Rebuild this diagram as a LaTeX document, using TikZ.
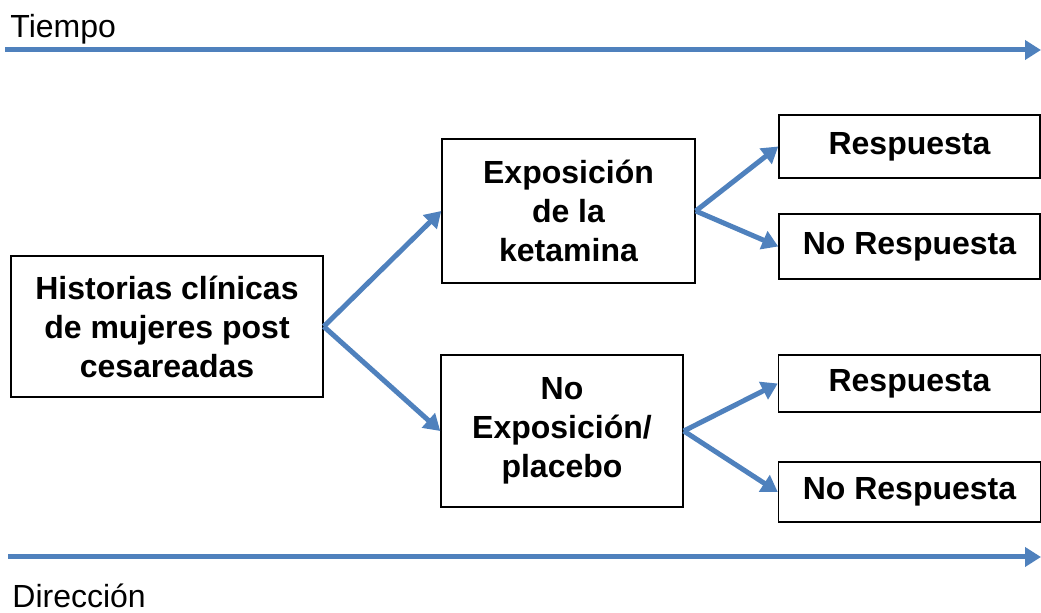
\documentclass[tikz,border=0pt]{standalone}
\usepackage{fontspec}
\setmainfont{Liberation Sans}
\usetikzlibrary{arrows.meta}
\definecolor{flechaazul}{RGB}{79,129,189}
\tikzset{
  caja/.style={draw,line width=0.75pt,inner sep=0,align=center,font=\cajafontsize\bfseries},
  flecha/.style={draw=flechaazul,line width=2.5pt,-{Triangle[length=8pt,width=9.5pt]}},
  rotulo/.style={anchor=base west,inner sep=0,font=\cajafontsize},
}
\begin{document}
\begin{tikzpicture}[x=0.5pt,y=-0.5pt]
    \providecommand{\cajafontsize}{\fontsize{16pt}{19.5pt}\selectfont}
    \pgfmathsetmacro{\colderx}{909.5}
    \useasboundingbox (0,0) rectangle (1041,613);
    % ejes de tiempo y direccion
    \coordinate (tiempoini) at (5,50);
    \coordinate (tiempofin) at (1041,50);
    \coordinate (dirini) at (8,557);
    \coordinate (dirfin) at (1041,557);
    \node[rotulo] (tiempo) at (10,38) {Tiempo};
    \node[rotulo] (direccion) at (12,608) {Dirección};
    \draw[flecha] (tiempoini) -- (tiempofin);
    \draw[flecha] (dirini) -- (dirfin);
    % cajas
    \node[caja,minimum width=156pt,minimum height=70.5pt] (hist) at (167,326.5)
      {Historias clínicas\\de mujeres post\\cesareadas};
    \node[caja,minimum width=126.5pt,minimum height=72pt] (expo) at (568.5,211)
      {Exposición\\de la\\ketamina};
    \node[caja,minimum width=121pt,minimum height=76pt] (noexpo) at (562,431)
      {No\\Exposición/\\placebo};
    \node[caja,minimum width=130.5pt,minimum height=31.5pt] (resp1) at (\colderx,146.5) {Respuesta};
    \node[caja,minimum width=130.5pt,minimum height=32.5pt] (noresp1) at (\colderx,246.5) {No Respuesta};
    \node[caja,minimum width=131pt,minimum height=28.5pt] (resp2) at (\colderx,383.5) {Respuesta};
    \node[caja,minimum width=131pt,minimum height=30pt] (noresp2) at (\colderx,492) {No Respuesta};
    % flechas
    \draw[flecha] (hist.east) -- (expo.west);
    \draw[flecha] (hist.east) -- (noexpo.west);
    \draw[flecha] (expo.east) -- (resp1.west);
    \draw[flecha] (expo.east) -- (noresp1.west);
    \draw[flecha] (noexpo.east) -- (resp2.west);
    \draw[flecha] (noexpo.east) -- (noresp2.west);
\end{tikzpicture}
\end{document}
